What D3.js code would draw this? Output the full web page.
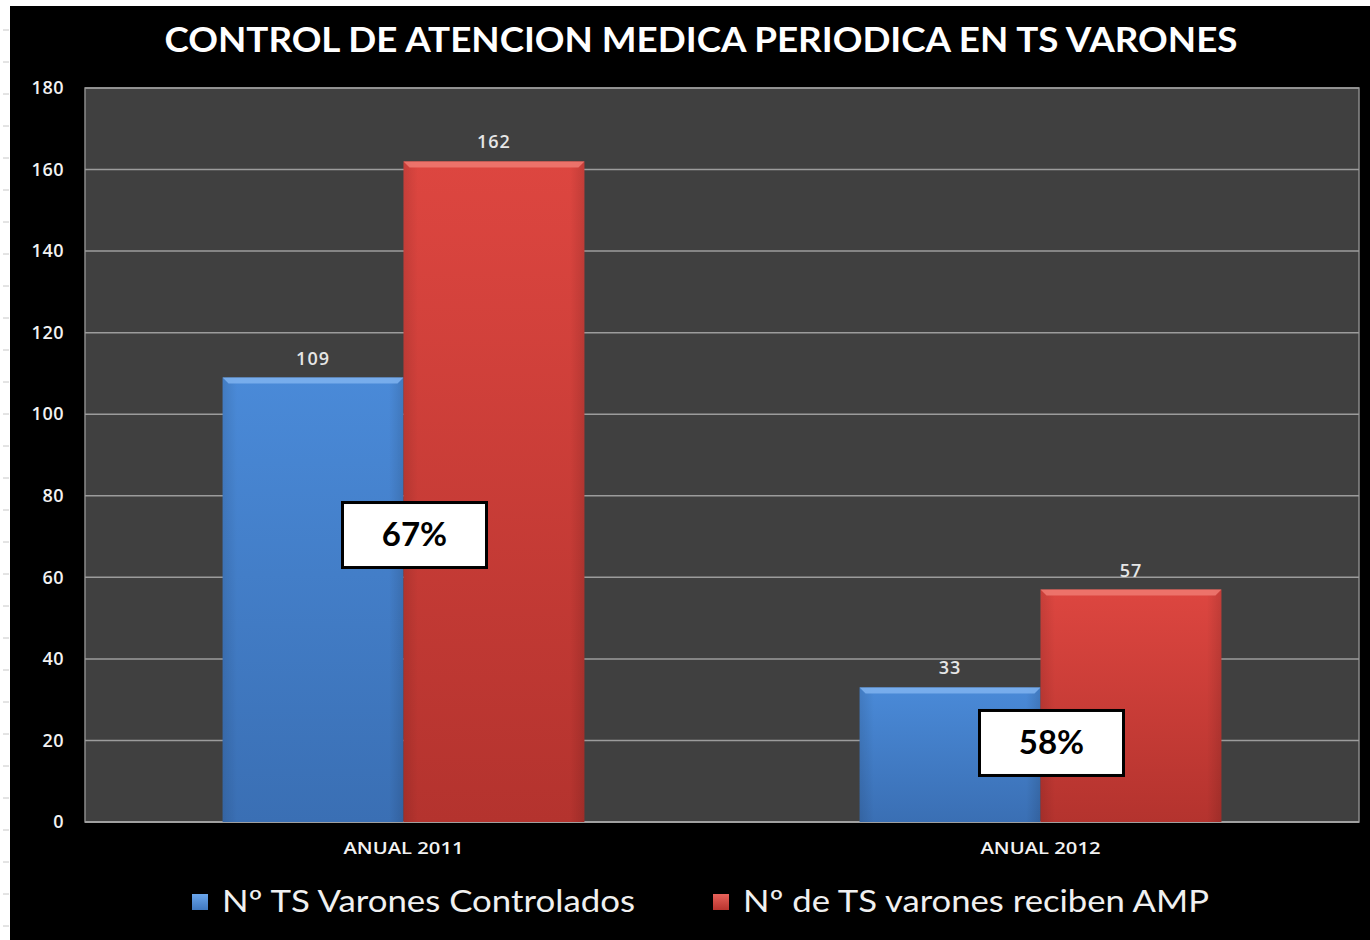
<!DOCTYPE html>
<html><head><meta charset="utf-8">
<script src="https://cdn.jsdelivr.net/npm/d3@7"></script>
<style>body{margin:0;background:#fff}svg{display:block}</style>
</head><body>
<script>
const categories = ["ANUAL 2011", "ANUAL 2012"];
const seriesNames = ["Nº TS Varones Controlados", "Nº de TS varones reciben AMP"];
const controlados = [109, 33];
const recibenAMP = [162, 57];
const percentLabels = ["67%", "58%"];
const percentAnchor = [70.5, 19.5];
const yTicks = [0, 20, 40, 60, 80, 100, 120, 140, 160, 180];
const title = "CONTROL DE ATENCION MEDICA PERIODICA EN TS VARONES";

const W = 1370, H = 940;
const svg = d3.select("body").append("svg").attr("width", W).attr("height", H);
const defs = svg.append("defs");

function grad(id, stops, horiz) {
  const g = defs.append("linearGradient").attr("id", id)
    .attr("x1", 0).attr("y1", 0).attr("x2", horiz ? 1 : 0).attr("y2", horiz ? 0 : 1);
  stops.forEach(s => g.append("stop").attr("offset", s[0]).attr("stop-color", s[1]));
}
grad("gBlueV", [[0, "#4a8ad8"], [1, "#3a6fb4"]], false);
grad("gRedV", [[0, "#dd4640"], [1, "#b4332e"]], false);
grad("gShade", [[0, "rgba(0,0,0,0.10)"], [0.08, "rgba(0,0,0,0)"], [0.92, "rgba(0,0,0,0)"], [1, "rgba(0,0,0,0.12)"]], true);

const numFont = "'Open Sans', Lato, sans-serif";
const txtFont = "Lato, 'Open Sans', sans-serif";

// page background strip
svg.append("rect").attr("width", W).attr("height", H).attr("fill", "#fff");
for (let y = 30; y < H; y += 32) {
  svg.append("line").attr("x1", 3).attr("x2", 9).attr("y1", y).attr("y2", y)
    .attr("stroke", "#c8c8c8").attr("stroke-width", 1);
}
svg.append("rect").attr("x", 10).attr("y", 6).attr("width", W - 10).attr("height", H - 6).attr("fill", "#000");

const m = {left: 85, right: 1359, top: 88, bottom: 822};
const x = d3.scaleBand().domain(categories).range([m.left, m.right]).paddingInner(0.432).paddingOuter(0.216);
const xs = d3.scaleBand().domain([0, 1]).range([0, x.bandwidth()]);
const y = d3.scaleLinear().domain([0, 180]).range([m.bottom, m.top]);

// plot area
svg.append("rect").attr("x", m.left).attr("y", m.top).attr("width", m.right - m.left).attr("height", m.bottom - m.top)
  .attr("fill", "#404040").attr("stroke", "#8a8a8a").attr("stroke-width", 1.5);

// gridlines
svg.append("g").selectAll("line").data(yTicks.filter(t => t > 0)).join("line")
  .attr("x1", m.left).attr("x2", m.right).attr("y1", d => y(d)).attr("y2", d => y(d))
  .attr("stroke", "#9c9c9c").attr("stroke-width", 1.5);
svg.append("line").attr("x1", m.left).attr("x2", m.right).attr("y1", y(0)).attr("y2", y(0))
  .attr("stroke", "#a0a0a0").attr("stroke-width", 2);

// y axis
const yAxis = svg.append("g").attr("transform", `translate(${m.left - 21},0)`)
  .call(d3.axisLeft(y).tickValues(yTicks).tickSize(0).tickPadding(0));
yAxis.select(".domain").remove();
yAxis.selectAll("text").attr("fill", "#f2f2f2").attr("font-family", numFont)
  .attr("font-size", 18).attr("font-weight", "600").attr("letter-spacing", 0.5);

// x axis
const xAxis = svg.append("g").attr("transform", `translate(0,${m.bottom + 21})`)
  .call(d3.axisBottom(x).tickSize(0).tickPadding(0));
xAxis.select(".domain").remove();
xAxis.selectAll("text").attr("fill", "#f2f2f2").attr("font-family", numFont)
  .attr("font-size", 16).attr("font-weight", "600").attr("dy", "0.71em")
  .attr("textLength", 120).attr("lengthAdjust", "spacingAndGlyphs");

// bars
const series = [
  {vals: controlados, fill: "url(#gBlueV)", top: "#7fb3f0"},
  {vals: recibenAMP, fill: "url(#gRedV)", top: "#f07a72"}
];
series.forEach((s, si) => {
  const g = svg.append("g");
  categories.forEach((c, ci) => {
    const bx = x(c) + xs(si), bw = xs.bandwidth(), by = y(s.vals[ci]), bh = y(0) - y(s.vals[ci]);
    g.append("rect").attr("x", bx).attr("y", by).attr("width", bw).attr("height", bh).attr("fill", s.fill);
    g.append("rect").attr("x", bx).attr("y", by).attr("width", bw).attr("height", bh).attr("fill", "url(#gShade)");
    g.append("path").attr("d", `M${bx},${by} L${bx + bw},${by} L${bx + bw - 6},${by + 6} L${bx + 6},${by + 6} Z`)
      .attr("fill", s.top).attr("opacity", 0.85);
    g.append("text").attr("x", bx + bw / 2).attr("y", by - 13).attr("text-anchor", "middle")
      .attr("fill", "#e6e6e6").attr("font-family", numFont).attr("letter-spacing", 1)
      .attr("font-size", 18).attr("font-weight", "600").text(s.vals[ci]);
  });
});

// percentage boxes
categories.forEach((c, ci) => {
  const cx = x(c) + x.bandwidth() / 2 + 11, cy = y(percentAnchor[ci]);
  svg.append("rect").attr("x", cx - 72).attr("y", cy - 32).attr("width", 144).attr("height", 65)
    .attr("fill", "#fff").attr("stroke", "#000").attr("stroke-width", 3);
  svg.append("text").attr("x", cx).attr("y", cy).attr("dy", "0.35em").attr("text-anchor", "middle")
    .attr("font-family", txtFont).attr("font-weight", "bold").attr("font-size", 33)
    .attr("fill", "#000").text(percentLabels[ci]);
});

// title
svg.append("text").attr("x", 701).attr("y", 52).attr("text-anchor", "middle")
  .attr("font-family", txtFont).attr("font-weight", "bold").attr("font-size", 34)
  .attr("fill", "#fff").attr("textLength", 1073).attr("lengthAdjust", "spacingAndGlyphs").text(title);

// legend
const legendX = [192, 713], legendLen = [413, 466], legendColors = [["#6aa6ec", "#3f78c0"], ["#e8625a", "#b8342e"]];
seriesNames.forEach((n, i) => {
  grad("gLeg" + i, [[0, legendColors[i][0]], [1, legendColors[i][1]]], false);
  svg.append("rect").attr("x", legendX[i]).attr("y", 894).attr("width", 16).attr("height", 16).attr("fill", `url(#gLeg${i})`);
  svg.append("text").attr("x", legendX[i] + 30).attr("y", 912)
    .attr("font-family", txtFont).attr("font-size", 30).attr("fill", "#f0f0f0")
    .attr("textLength", legendLen[i]).attr("lengthAdjust", "spacingAndGlyphs").text(n);
});
</script>
</body></html>
